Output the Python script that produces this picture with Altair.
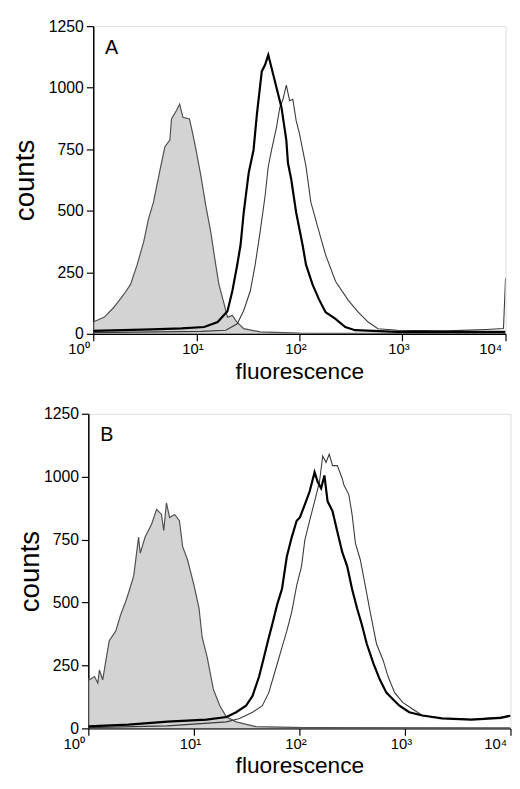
import altair as alt
import pandas as pd

# ---- Panel A (log10 fluorescence positions, counts) ----
a_gray_x = [0.0, 0.108, 0.2, 0.298, 0.362, 0.426, 0.489, 0.536, 0.584, 0.648, 0.695, 0.743, 0.759,
            0.807, 0.838, 0.87, 0.933, 0.965, 0.997, 1.045, 1.092, 1.14, 1.188, 1.219, 1.27, 1.302,
            1.35, 1.39, 1.46, 1.62, 2.0, 3.0, 4.0]
a_gray_y = [48, 68, 108, 161, 201, 281, 374, 467, 535, 667, 760, 787, 873,
            907, 933, 880, 873, 813, 747, 640, 520, 414, 281, 201, 121, 68,
            75, 50, 21, 8, 3, 2, 2]

a_thick_x = [0.0, 0.571, 0.857, 1.076, 1.207, 1.302, 1.35, 1.397, 1.429, 1.46, 1.508, 1.555, 1.588,
             1.635, 1.667, 1.698, 1.73, 1.778, 1.826, 1.873, 1.889, 1.921, 1.968, 2.031, 2.064,
             2.127, 2.19, 2.254, 2.35, 2.445, 2.54, 2.95, 4.0]
a_thick_y = [12, 18, 22, 28, 48, 92, 175, 281, 361, 494, 654, 747, 894,
             1066, 1093, 1133, 1080, 1000, 920, 787, 694, 627, 494, 361, 281,
             201, 140, 88, 61, 28, 15, 8, 8]

a_thin_x = [0.0, 1.048, 1.286, 1.397, 1.46, 1.524, 1.571, 1.619, 1.667, 1.698, 1.73, 1.778, 1.81,
            1.841, 1.873, 1.905, 1.936, 1.968, 2.0, 2.064, 2.111, 2.174, 2.254, 2.35, 2.476,
            2.571, 2.667, 2.762, 2.952, 3.43, 3.81, 3.98, 4.0]
a_thin_y = [5, 10, 15, 41, 95, 175, 281, 414, 560, 680, 747, 840, 920,
            953, 1010, 947, 953, 867, 814, 680, 535, 440, 321, 214, 135,
            88, 48, 21, 15, 12, 18, 22, 228]

# ---- Panel B ----
b_gray_x = [0.0, 0.012, 0.058, 0.09, 0.105, 0.136, 0.167, 0.198, 0.26, 0.306, 0.353, 0.383, 0.43,
            0.476, 0.492, 0.538, 0.6, 0.647, 0.693, 0.715, 0.74, 0.77, 0.817, 0.863, 0.894,
            0.94, 1.002, 1.049, 1.079, 1.126, 1.185, 1.246, 1.309, 1.401, 1.587, 2.05, 4.0]
b_gray_y = [200, 193, 206, 180, 232, 193, 271, 348, 387, 451, 503, 541, 606,
            760, 696, 760, 812, 870, 850, 786, 896, 838, 850, 825, 722,
            670, 567, 477, 361, 283, 155, 90, 45, 26, 7, 3, 2]

b_thick_x = [0.0, 0.38, 0.75, 1.12, 1.309, 1.401, 1.494, 1.556, 1.618, 1.664, 1.71, 1.742, 1.788,
             1.835, 1.881, 1.928, 1.974, 2.005, 2.051, 2.097, 2.144, 2.174, 2.206, 2.237, 2.267,
             2.314, 2.36, 2.406, 2.453, 2.499, 2.546, 2.592, 2.639, 2.701, 2.763, 2.824, 2.886,
             2.948, 3.041, 3.165, 3.35, 3.63, 3.91, 4.0]
b_thick_y = [8, 15, 27, 35, 45, 64, 90, 129, 206, 283, 361, 412, 490,
             554, 683, 760, 825, 838, 889, 941, 1018, 979, 954, 1005, 902,
             863, 780, 700, 644, 554, 477, 412, 335, 258, 193, 142, 116,
             90, 64, 51, 40, 35, 42, 50]

b_thin_x = [0.0, 0.75, 1.309, 1.432, 1.556, 1.649, 1.71, 1.773, 1.835, 1.881, 1.928, 1.974, 2.02,
            2.051, 2.097, 2.144, 2.19, 2.221, 2.252, 2.283, 2.314, 2.36, 2.406, 2.422, 2.469,
            2.499, 2.531, 2.577, 2.624, 2.67, 2.731, 2.793, 2.84, 2.902, 2.979, 3.072, 3.165,
            3.35, 3.63, 3.91, 4.0]
b_thin_y = [3, 10, 26, 39, 64, 90, 142, 232, 322, 387, 464, 567, 644,
            747, 825, 902, 979, 1082, 1057, 1089, 1044, 1044, 992, 967, 928,
            850, 735, 670, 567, 464, 335, 271, 206, 142, 103, 77, 51,
            40, 35, 45, 52]

y_ticks = [0, 250, 500, 750, 1000, 1250]
x_ticks = [1, 10, 100, 1000, 10000]
x_tick_labels = ["10⁰", "10¹", "10²", "10³", "10⁴"]

FONT = "Liberation Sans"

label_expr = " : ".join(
    f"datum.value == {v} ? '{t}'" for v, t in zip(x_ticks, x_tick_labels)
) + " : ''"
label_align = {"expr": f"datum.value == {x_ticks[0]} || datum.value == {x_ticks[-1]} ? 'right' : 'center'"}


def frame(xs, ys):
    return pd.DataFrame({"fl": [10 ** v for v in xs], "counts": ys})


def panel(letter, gx, gy, tkx, tky, tnx, tny, w, h, title_pad):
    xs = alt.Scale(type="log", domain=[1, 10000], nice=False)
    ys = alt.Scale(domain=[0, 1250], nice=False)
    xax = alt.Axis(values=x_ticks, labelExpr=label_expr, title="fluorescence",
                   grid=False, tickSize=7, labelFontSize=15, titleFontSize=23,
                   labelFont=FONT, titleFont=FONT, titleFontWeight="normal",
                   domainColor="black", tickColor="black", labelColor="black",
                   titleColor="black", labelPadding=1, titlePadding=4, labelFlush=False,
                   labelAlign=label_align, labelOffset=-4, domainWidth=1.5, tickWidth=1.2)
    yax = alt.Axis(values=y_ticks, format="d", title="counts", grid=False, tickSize=7,
                   labelFontSize=16, titleFontSize=28, labelFont=FONT, titleFont=FONT,
                   titleFontWeight="normal", domainColor="black", tickColor="black",
                   labelColor="black", titleColor="black", labelPadding=3,
                   titlePadding=title_pad, domainWidth=1.5, tickWidth=1.2)
    enc_x = alt.X("fl:Q", scale=xs, axis=xax)
    enc_y = alt.Y("counts:Q", scale=ys, axis=yax)
    gray = alt.Chart(frame(gx, gy)).mark_area(
        color="#c0c0c0", line={"color": "#505050", "strokeWidth": 1.2}, clip=True
    ).encode(x=enc_x, y=enc_y)
    thin = alt.Chart(frame(tnx, tny)).mark_line(color="#3a3a3a", strokeWidth=1.1, clip=True).encode(
        x=alt.X("fl:Q", scale=xs), y=alt.Y("counts:Q", scale=ys))
    thick = alt.Chart(frame(tkx, tky)).mark_line(color="#000000", strokeWidth=2.2, clip=True).encode(
        x=alt.X("fl:Q", scale=xs), y=alt.Y("counts:Q", scale=ys))
    lab = alt.Chart(pd.DataFrame({"t": [letter]})).mark_text(
        font=FONT, fontSize=20, align="left", baseline="top", color="black"
    ).encode(x=alt.value(12), y=alt.value(12), text="t:N")
    return alt.layer(gray, thin, thick, lab).properties(width=w, height=h)


pa = panel("A", a_gray_x, a_gray_y, a_thick_x, a_thick_y, a_thin_x, a_thin_y, 418, 312, 9)
pb = panel("B", b_gray_x, b_gray_y, b_thick_x, b_thick_y, b_thin_x, b_thin_y, 428, 319, -1)

chart = alt.vconcat(pa, pb, spacing=21, center=True).configure_view(
    stroke="black", strokeWidth=1.5
).configure(padding={"left": 3, "top": 4, "right": 0, "bottom": 0}, background="white")

chart.save("out.html", embed_options={"renderer": "svg", "actions": False})
